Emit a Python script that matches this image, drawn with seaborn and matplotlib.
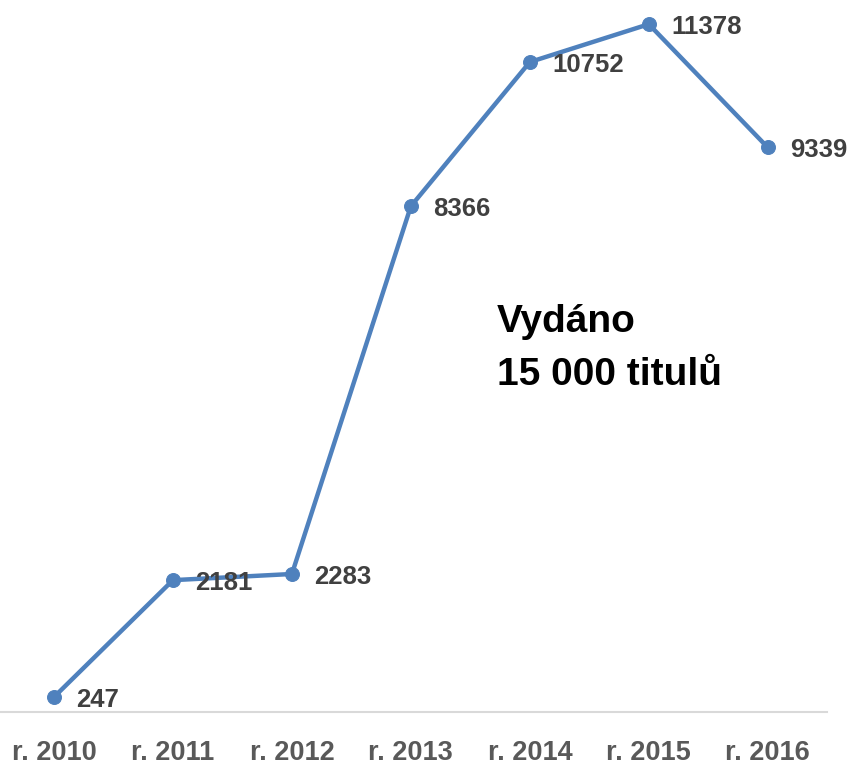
import pandas as pd
import matplotlib
matplotlib.use("Agg")
import matplotlib.pyplot as plt
import seaborn as sns

years = ["r. 2010", "r. 2011", "r. 2012", "r. 2013", "r. 2014", "r. 2015", "r. 2016"]
titles = [247, 2181, 2283, 8366, 10752, 11378, 9339]
note = "Vydáno\n15 000 titulů"

sns.set_style("white")
plt.rcParams["font.family"] = ["Liberation Sans Narrow", "Liberation Sans", "DejaVu Sans"]

df = pd.DataFrame({"year": years, "titles": titles})

fig = plt.figure(figsize=(8.48, 7.66), dpi=100)
ax = fig.add_axes([-0.0065, 0.0705, 0.982, 0.947])

blue = "#4F81BD"
sns.lineplot(data=df, x="year", y="titles", ax=ax, color=blue, linewidth=3.2,
             marker="o", markersize=10, markeredgecolor=blue, sort=False)

# data labels to the right of each point
for i, v in enumerate(titles):
    ax.annotate(str(v), (i, v), xytext=(16, -2), textcoords="offset points",
                ha="left", va="center", fontsize=18.5, fontweight="bold",
                color="#404040")

fig.text(0.586, 0.545, note, ha="left", va="center",
         fontsize=28, fontweight="bold", color="black", linespacing=1.6)

ax.set_xlim(-0.5, 6.5)
ax.set_ylim(0, 12000)
ax.set_xlabel("")
ax.set_ylabel("")
ax.set_yticks([])
for s in ["top", "right", "left"]:
    ax.spines[s].set_visible(False)
ax.spines["bottom"].set_color("#D9D9D9")
ax.spines["bottom"].set_linewidth(1.5)
ax.tick_params(axis="x", length=0, pad=20, labelsize=19.5, labelcolor="#595959")
for lab in ax.get_xticklabels():
    lab.set_fontweight("bold")

fig.savefig("out.png", dpi=100)
